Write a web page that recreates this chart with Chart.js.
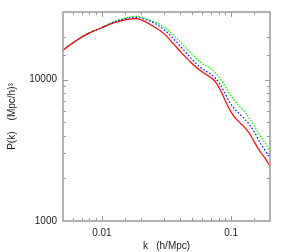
<!DOCTYPE html>
<html lang="en">
<head>
  <meta charset="UTF-8">
  <title>Power spectrum P(k)</title>
  <script src="https://cdn.jsdelivr.net/npm/chart.js"></script>
  <style>
    body {
      margin: 0;
      background-color: #ffffff;
    }

    .chart-box {
      width: 287px;
      height: 252px;
    }
  </style>
</head>
<body>

  <div class="chart-box">
    <canvas id="pkChart"></canvas>
  </div>

  <script>
    // wavenumbers k (h/Mpc), shared by all three curves
    const kValues = [0.005, 0.0061, 0.0078, 0.01, 0.0124, 0.0158, 0.0183, 0.0238, 0.0302, 0.0382,
                     0.0484, 0.0577, 0.0689, 0.0753, 0.0822, 0.09, 0.0982, 0.1074, 0.1172, 0.1283,
                     0.14, 0.1532, 0.167, 0.1828, 0.2];

    // P(k) values, (Mpc/h)^3
    const redP = [16130, 18440, 21090, 23230, 25190, 26590, 26900, 24390, 21090, 16700,
                  13300, 11570, 10380, 9680, 8500, 7110, 6050, 5360, 4940, 4550,
                  4100, 3540, 3110, 2780, 2440];
    const greenP = [16130, 18460, 21150, 23400, 25700, 27500, 27990, 26160, 23500, 19440,
                    15500, 13240, 12050, 11200, 10160, 8930, 7780, 7000, 6400, 5860,
                    5230, 4590, 4030, 3570, 3140];
    const blueP = [16130, 18450, 21120, 23300, 25450, 27100, 27420, 25740, 22600, 18200,
                   14300, 12210, 10970, 10250, 9220, 7970, 6830, 6150, 5670, 5230,
                   4740, 4170, 3600, 3160, 2780];

    const xTickLabels = ['0.01', '0.1'];
    const yTickLabels = ['1000', '10000'];

    const toPoints = (vals) => kValues.map((k, i) => ({ x: k, y: vals[i] }));

    const isDecade = (v) => Math.abs(Math.log10(v) - Math.round(Math.log10(v))) < 1e-6;

    // gnuplot-style frame with inward ticks on all four sides
    const frameTicks = {
      id: 'frameTicks',
      afterDatasetsDraw(chart) {
        const { ctx, chartArea: a, scales: { x, y } } = chart;
        ctx.save();
        ctx.strokeStyle = '#9a9a9a';
        ctx.lineWidth = 1;
        ctx.beginPath();
        x.ticks.forEach(t => {
          const px = Math.round(x.getPixelForValue(t.value)) + 0.5;
          if (px <= a.left + 1 || px >= a.right - 1) return;
          const len = isDecade(t.value) ? 5 : 3;
          ctx.moveTo(px, a.bottom); ctx.lineTo(px, a.bottom - len);
          ctx.moveTo(px, a.top); ctx.lineTo(px, a.top + len);
        });
        y.ticks.forEach(t => {
          const py = Math.round(y.getPixelForValue(t.value)) + 0.5;
          if (py <= a.top + 1 || py >= a.bottom - 1) return;
          const len = isDecade(t.value) ? 5 : 3;
          ctx.moveTo(a.left, py); ctx.lineTo(a.left + len, py);
          ctx.moveTo(a.right, py); ctx.lineTo(a.right - len, py);
        });
        ctx.stroke();
        ctx.lineWidth = 1.5;
        ctx.strokeRect(a.left, a.top, a.right - a.left, a.bottom - a.top);
        ctx.restore();
      }
    };

    Chart.defaults.font.family = "'Liberation Sans', Arial, sans-serif";
    Chart.defaults.font.size = 10;
    Chart.defaults.color = '#222';

    const ctx = document.getElementById('pkChart').getContext('2d');
    new Chart(ctx, {
      type: 'line',
      data: {
        datasets: [
          {
            label: 'red',
            data: toPoints(redP),
            borderColor: '#ff0000',
            borderWidth: 1.2,
            pointRadius: 0,
            cubicInterpolationMode: 'monotone'
          },
          {
            label: 'blue',
            data: toPoints(blueP),
            borderColor: '#0000ff',
            borderWidth: 1.2,
            borderDash: [1.5, 2],
            pointRadius: 0,
            cubicInterpolationMode: 'monotone'
          },
          {
            label: 'green',
            data: toPoints(greenP),
            borderColor: '#00ff00',
            borderWidth: 1.3,
            borderDash: [1.5, 1.5],
            pointRadius: 0,
            cubicInterpolationMode: 'monotone'
          }
        ]
      },
      options: {
        responsive: true,
        maintainAspectRatio: false,
        animation: false,
        layout: { padding: { left: 0, top: 12, right: 17, bottom: 0 } },
        plugins: {
          legend: { display: false },
          tooltip: { enabled: false }
        },
        scales: {
          x: {
            type: 'logarithmic',
            min: 0.005,
            max: 0.2,
            grid: { display: false, drawTicks: false },
            border: { display: false },
            ticks: {
              autoSkip: false,
              maxRotation: 0,
              padding: 6,
              callback: (v) => {
                const s = String(+v.toPrecision(6));
                return xTickLabels.includes(s) ? s : '';
              }
            },
            title: {
              display: true,
              text: 'k   (h/Mpc)',
              padding: { top: 0, bottom: 0 }
            },
            afterFit: (scale) => { scale.height = 31; }
          },
          y: {
            type: 'logarithmic',
            min: 1000,
            max: 30000,
            grid: { display: false, drawTicks: false },
            border: { display: false },
            ticks: {
              autoSkip: false,
              padding: 6,
              callback: (v) => {
                const s = String(Math.round(v));
                return yTickLabels.includes(s) ? s : '';
              }
            },
            title: {
              display: true,
              text: 'P(k)    (Mpc/h)³',
              padding: { top: 6, bottom: 0 }
            },
            afterFit: (scale) => { scale.width = 63; }
          }
        }
      },
      plugins: [frameTicks]
    });
  </script>

</body>
</html>
